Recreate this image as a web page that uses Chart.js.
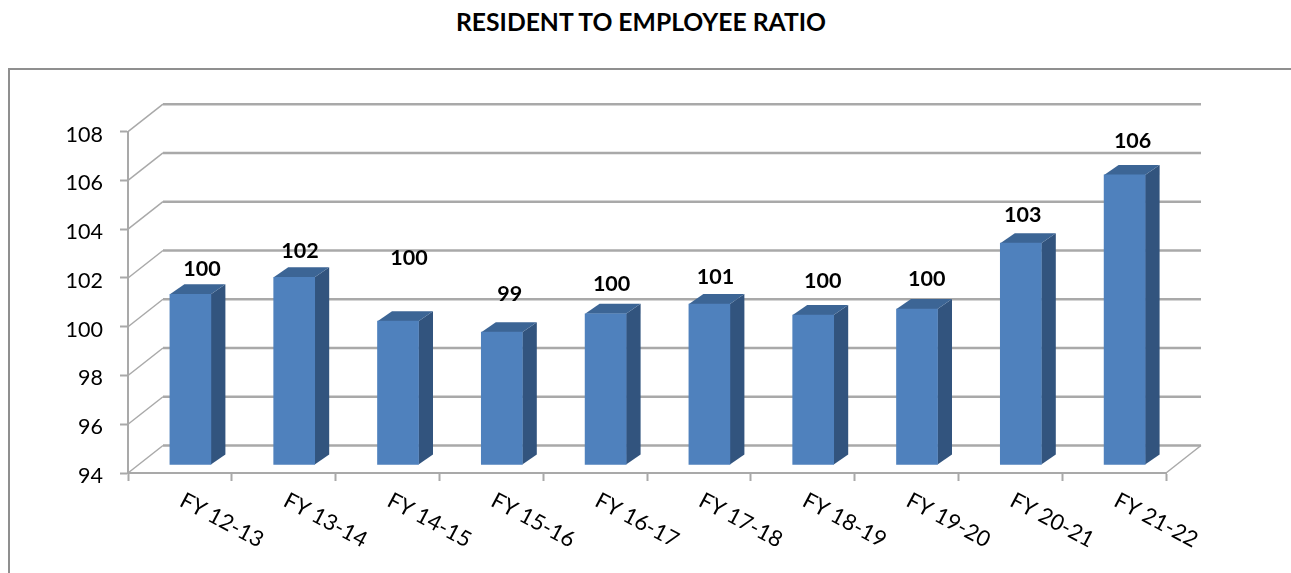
<!DOCTYPE html>
<html lang="en">
<head>
    <meta charset="UTF-8">
    <title>Resident to Employee Ratio</title>
    <script src="https://cdn.jsdelivr.net/npm/chart.js"></script>
    <style>
        body { margin: 0; background: #fff; overflow: hidden; }
        #frame { position: absolute; left: 8px; top: 68px; right: 0; bottom: 0; border-left: 2px solid #8f8f8f; border-top: 2px solid #8f8f8f; }
        #title { position: absolute; left: 0; top: 7px; width: 1282px; text-align: center; font: bold 24.7px Lato, sans-serif; line-height: 30px; color: #000; }
        canvas { position: absolute; left: 0; top: 0; }
    </style>
</head>
<body>
    <div id="frame"></div>
    <div id="title">RESIDENT TO EMPLOYEE RATIO</div>
    <canvas id="ratioChart" width="1291" height="573"></canvas>

    <script>
        const categories = ['FY 12-13', 'FY 13-14', 'FY 14-15', 'FY 15-16', 'FY 16-17', 'FY 17-18', 'FY 18-19', 'FY 19-20', 'FY 20-21', 'FY 21-22'];
        // bar heights, the printed labels are rounded differently
        const ratioValues = [101.0, 101.7, 99.9, 99.45, 100.2, 100.6, 100.15, 100.4, 103.1, 105.9];
        const printedLabels = [100, 102, 100, 99, 100, 101, 100, 100, 103, 106];

        // the labels were hand placed in the original, so nudge each from its bar top
        const labelNudgeX = [11.5, 5.7, 11, 8, 6, 6, 9.5, 9.7, 2, 8];
        const labelNudgeY = [-25, -26, -63, -38, -30, -27, -34, -30, -28, -34];

        const FONT = 'Lato, sans-serif';
        const GRID = '#a9a9a9';
        const DEPTH_X = 35, DEPTH_Y = 27.5;       // back wall shift
        const BAR_X = 10.5, BAR_Y = 8;            // bar front face shift from the axis plane
        const SIDE_X = 14.5, SIDE_Y = 10;         // bar depth

        const fake3d = {
            id: 'fake3d',
            beforeDatasetsDraw(chart) {
                const { ctx, scales: { x, y } } = chart;
                ctx.save();
                ctx.strokeStyle = GRID;

                // back wall lines and the slanted side wall
                y.ticks.forEach(t => {
                    const py = y.getPixelForValue(t.value);
                    ctx.lineWidth = 1.5;
                    ctx.beginPath();
                    ctx.moveTo(x.left, py);
                    ctx.lineTo(x.left + DEPTH_X, py - DEPTH_Y);
                    ctx.stroke();
                    ctx.lineWidth = 2.5;
                    ctx.beginPath();
                    ctx.moveTo(x.left + DEPTH_X, py - DEPTH_Y);
                    ctx.lineTo(x.right + DEPTH_X, py - DEPTH_Y);
                    ctx.stroke();
                });

                // floor edge on the right
                ctx.lineWidth = 1.5;
                ctx.beginPath();
                ctx.moveTo(x.right, y.bottom);
                ctx.lineTo(x.right + DEPTH_X, y.bottom - DEPTH_Y);
                ctx.stroke();

                // side and top faces of the bars
                chart.getDatasetMeta(0).data.forEach(bar => {
                    const l = bar.x - bar.width / 2 + BAR_X;
                    const r = bar.x + bar.width / 2 + BAR_X;
                    const t = bar.y - BAR_Y;
                    const b = bar.base - BAR_Y;

                    ctx.fillStyle = '#32547e';
                    ctx.beginPath();
                    ctx.moveTo(r, t);
                    ctx.lineTo(r + SIDE_X, t - SIDE_Y);
                    ctx.lineTo(r + SIDE_X, b - SIDE_Y);
                    ctx.lineTo(r, b);
                    ctx.closePath();
                    ctx.fill();

                    ctx.fillStyle = '#3c6595';
                    ctx.beginPath();
                    ctx.moveTo(l, t);
                    ctx.lineTo(l + SIDE_X, t - SIDE_Y);
                    ctx.lineTo(r + SIDE_X, t - SIDE_Y);
                    ctx.lineTo(r, t);
                    ctx.closePath();
                    ctx.fill();
                });
                ctx.restore();
            },
            beforeDatasetDraw(chart) {
                chart.ctx.save();
                chart.ctx.translate(BAR_X, -BAR_Y);
            },
            afterDatasetDraw(chart) {
                chart.ctx.restore();
            },
            afterDatasetsDraw(chart) {
                const ctx = chart.ctx;
                ctx.save();
                ctx.font = 'bold 21.5px ' + FONT;
                ctx.fillStyle = '#000';
                ctx.textAlign = 'center';
                ctx.textBaseline = 'middle';
                chart.getDatasetMeta(0).data.forEach((bar, i) => {
                    ctx.fillText(printedLabels[i], bar.x + BAR_X + labelNudgeX[i], bar.y - BAR_Y + labelNudgeY[i]);
                });
                ctx.restore();
            }
        };

        new Chart(document.getElementById('ratioChart'), {
            type: 'bar',
            plugins: [fake3d],
            data: {
                labels: categories,
                datasets: [{
                    label: 'Resident to employee ratio',
                    data: ratioValues,
                    backgroundColor: '#4f81bd',
                    barThickness: 41,
                    base: 94,
                    clip: false
                }]
            },
            options: {
                responsive: false,
                animation: false,
                layout: { padding: { top: 131.7, right: 125 } },
                plugins: {
                    legend: { display: false },
                    tooltip: { enabled: false }
                },
                scales: {
                    x: {
                        afterFit(scale) { scale.height = 100; },
                        border: { color: GRID, width: 2 },
                        grid: { drawOnChartArea: false, tickLength: 8, tickColor: GRID, tickWidth: 2 },
                        ticks: { color: '#000', font: { family: FONT, size: 22 }, minRotation: -28, maxRotation: -28, labelOffset: 82, padding: 49, autoSkip: false }
                    },
                    y: {
                        min: 94,
                        max: 108,
                        afterFit(scale) { scale.width = 128; },
                        border: { color: GRID, width: 2 },
                        grid: { drawOnChartArea: false, tickLength: 8, tickColor: GRID, tickWidth: 2 },
                        ticks: { stepSize: 2, color: '#000', font: { family: FONT, size: 21.5 }, padding: 17, labelOffset: 3 }
                    }
                }
            }
        });
    </script>
</body>
</html>
